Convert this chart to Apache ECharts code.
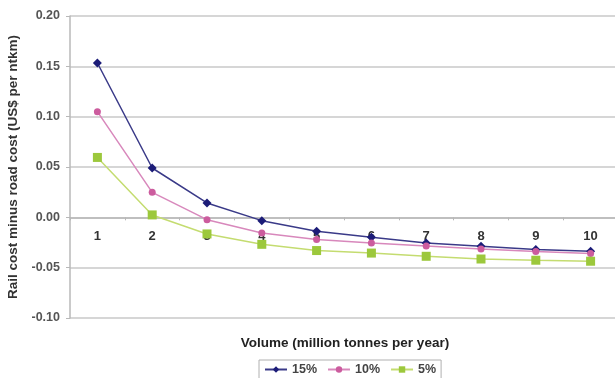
<!DOCTYPE html>
<html>
<head>
<meta charset="utf-8">
<script src="https://cdn.jsdelivr.net/npm/echarts@6/dist/echarts.min.js"></script>
<style>
html,body{margin:0;padding:0;background:#fff;}
#chart{width:615px;height:378px;}
</style>
</head>
<body>
<div id="chart"></div>
<script>
const categories = ['1','2','3','4','5','6','7','8','9','10'];
const series15 = [0.1533, 0.049, 0.0143, -0.0033, -0.0139, -0.0198, -0.0254, -0.0287, -0.032, -0.0337];
const series10 = [0.105, 0.0248, -0.0023, -0.0155, -0.022, -0.0256, -0.0285, -0.0315, -0.034, -0.036];
const series5 = [0.0595, 0.0024, -0.0165, -0.0268, -0.033, -0.0355, -0.0387, -0.0414, -0.0426, -0.0436];
const seriesNames = ['15%', '10%', '5%'];
const yTicks = {min: -0.10, max: 0.20, interval: 0.05};
const xTitle = 'Volume (million tonnes per year)';
const yTitle = 'Rail cost minus road cost (US$ per ntkm)';

const chart = echarts.init(document.getElementById('chart'));
const font = 'Liberation Sans, Arial, sans-serif';
const gridTop = 16, gridBottom = 60, chartH = 378;
const plotH = chartH - gridTop - gridBottom;
const zeroOffset = -plotH * (0 - yTicks.min) / (yTicks.max - yTicks.min);
chart.setOption({
  animation: false,
  backgroundColor: '#ffffff',
  grid: {left: 70, right: -3, top: gridTop, bottom: gridBottom, containLabel: false, outerBoundsMode: 'none'},
  legend: {
    data: seriesNames,
    top: 360,
    left: 259,
    itemWidth: 22,
    itemHeight: 8,
    itemGap: 10,
    padding: [3, 5, 3, 5],
    borderColor: '#b0b0b0',
    borderWidth: 1,
    textStyle: {fontFamily: font, fontWeight: 'bold', fontSize: 12.5, color: '#444'}
  },
  graphic: [{
    type: 'text', x: 345, y: 343,
    style: {text: xTitle, fontFamily: font, fontWeight: 'bold', fontSize: 13.5, fill: '#222',
      textAlign: 'center', textVerticalAlign: 'middle'}
  }],
  xAxis: {
    type: 'category',
    data: categories,
    boundaryGap: true,
    offset: zeroOffset,
    axisLine: {onZero: false, lineStyle: {color: '#b8b8b8', width: 1.5}},
    axisTick: {show: true, length: 3, lineStyle: {color: '#b8b8b8'}},
    axisLabel: {margin: 13, fontFamily: font, fontWeight: 'bold', fontSize: 13, color: '#333'}
  },
  yAxis: {
    type: 'value',
    min: yTicks.min,
    max: yTicks.max,
    interval: yTicks.interval,
    name: yTitle,
    nameLocation: 'middle',
    nameGap: 43,
    nameTextStyle: {fontFamily: font, fontWeight: 'bold', fontSize: 13.5, color: '#333'},
    axisLine: {show: true, lineStyle: {color: '#b8b8b8', width: 1.5}},
    axisTick: {show: true, length: 4, lineStyle: {color: '#b8b8b8'}},
    axisLabel: {margin: 10, fontFamily: font, fontWeight: 'bold', fontSize: 12.5, color: '#555',
      formatter: v => v.toFixed(2)},
    splitLine: {show: true, lineStyle: {color: '#c8c8c8', width: 1.5}}
  },
  series: [
    {name: seriesNames[0], type: 'line', data: series15, symbol: 'diamond', symbolSize: 9,
     itemStyle: {color: '#1c1c78'}, lineStyle: {color: '#3a3a88', width: 1.5}},
    {name: seriesNames[1], type: 'line', data: series10, symbol: 'circle', symbolSize: 7,
     itemStyle: {color: '#cc5c9e'}, lineStyle: {color: '#d888bc', width: 1.5}},
    {name: seriesNames[2], type: 'line', data: series5, symbol: 'rect', symbolSize: 9,
     itemStyle: {color: '#9cc83c'}, lineStyle: {color: '#c4dc70', width: 1.5}}
  ]
});
</script>
</body>
</html>
